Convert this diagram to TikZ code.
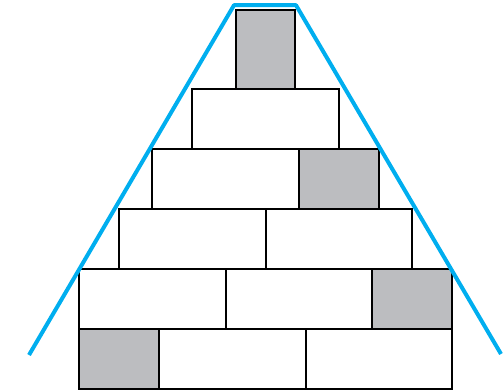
\documentclass[tikz,border=0pt]{standalone}
\begin{document}
\begin{tikzpicture}[x=1pt,y=-1pt,
  brick/.style={draw=black,line width=2pt,fill=white,inner sep=0pt,outer sep=0pt},
  graybrick/.style={brick,fill=brickgray},
  outline/.style={draw=skyblue,line width=4pt,line join=round}]
\definecolor{brickgray}{HTML}{BCBDC0}
\definecolor{skyblue}{HTML}{00AEEF}
\useasboundingbox (0,0) rectangle (503,391);
% row 1
\node[graybrick,minimum width=59pt,minimum height=79.5pt] (r1) at (265.5,49.25) {};
% row 2
\node[brick,minimum width=147pt,minimum height=60pt] (r2) at (265.5,119) {};
% row 3
\node[brick,minimum width=147pt,minimum height=60pt] (r3a) at (225.5,179) {};
\node[graybrick,minimum width=80pt,minimum height=60pt] (r3b) at (339,179) {};
% row 4
\node[brick,minimum width=147pt,minimum height=60pt] (r4a) at (192.5,239) {};
\node[brick,minimum width=146pt,minimum height=60pt] (r4b) at (339,239) {};
% row 5
\node[brick,minimum width=147pt,minimum height=60pt] (r5a) at (152.5,299) {};
\node[brick,minimum width=146pt,minimum height=60pt] (r5b) at (299,299) {};
\node[graybrick,minimum width=80pt,minimum height=60pt] (r5c) at (412,299) {};
% row 6
\node[graybrick,minimum width=80pt,minimum height=60pt] (r6a) at (119,359) {};
\node[brick,minimum width=147pt,minimum height=60pt] (r6b) at (232.5,359) {};
\node[brick,minimum width=146pt,minimum height=60pt] (r6c) at (379,359) {};
% blue outline
\coordinate (bl) at (29,355);
\coordinate (tl) at (234,5.2);
\coordinate (tr) at (296,5.2);
\coordinate (br) at (501,354);
\draw[outline] (bl) -- (tl) -- (tr) -- (br);
\end{tikzpicture}
\end{document}
